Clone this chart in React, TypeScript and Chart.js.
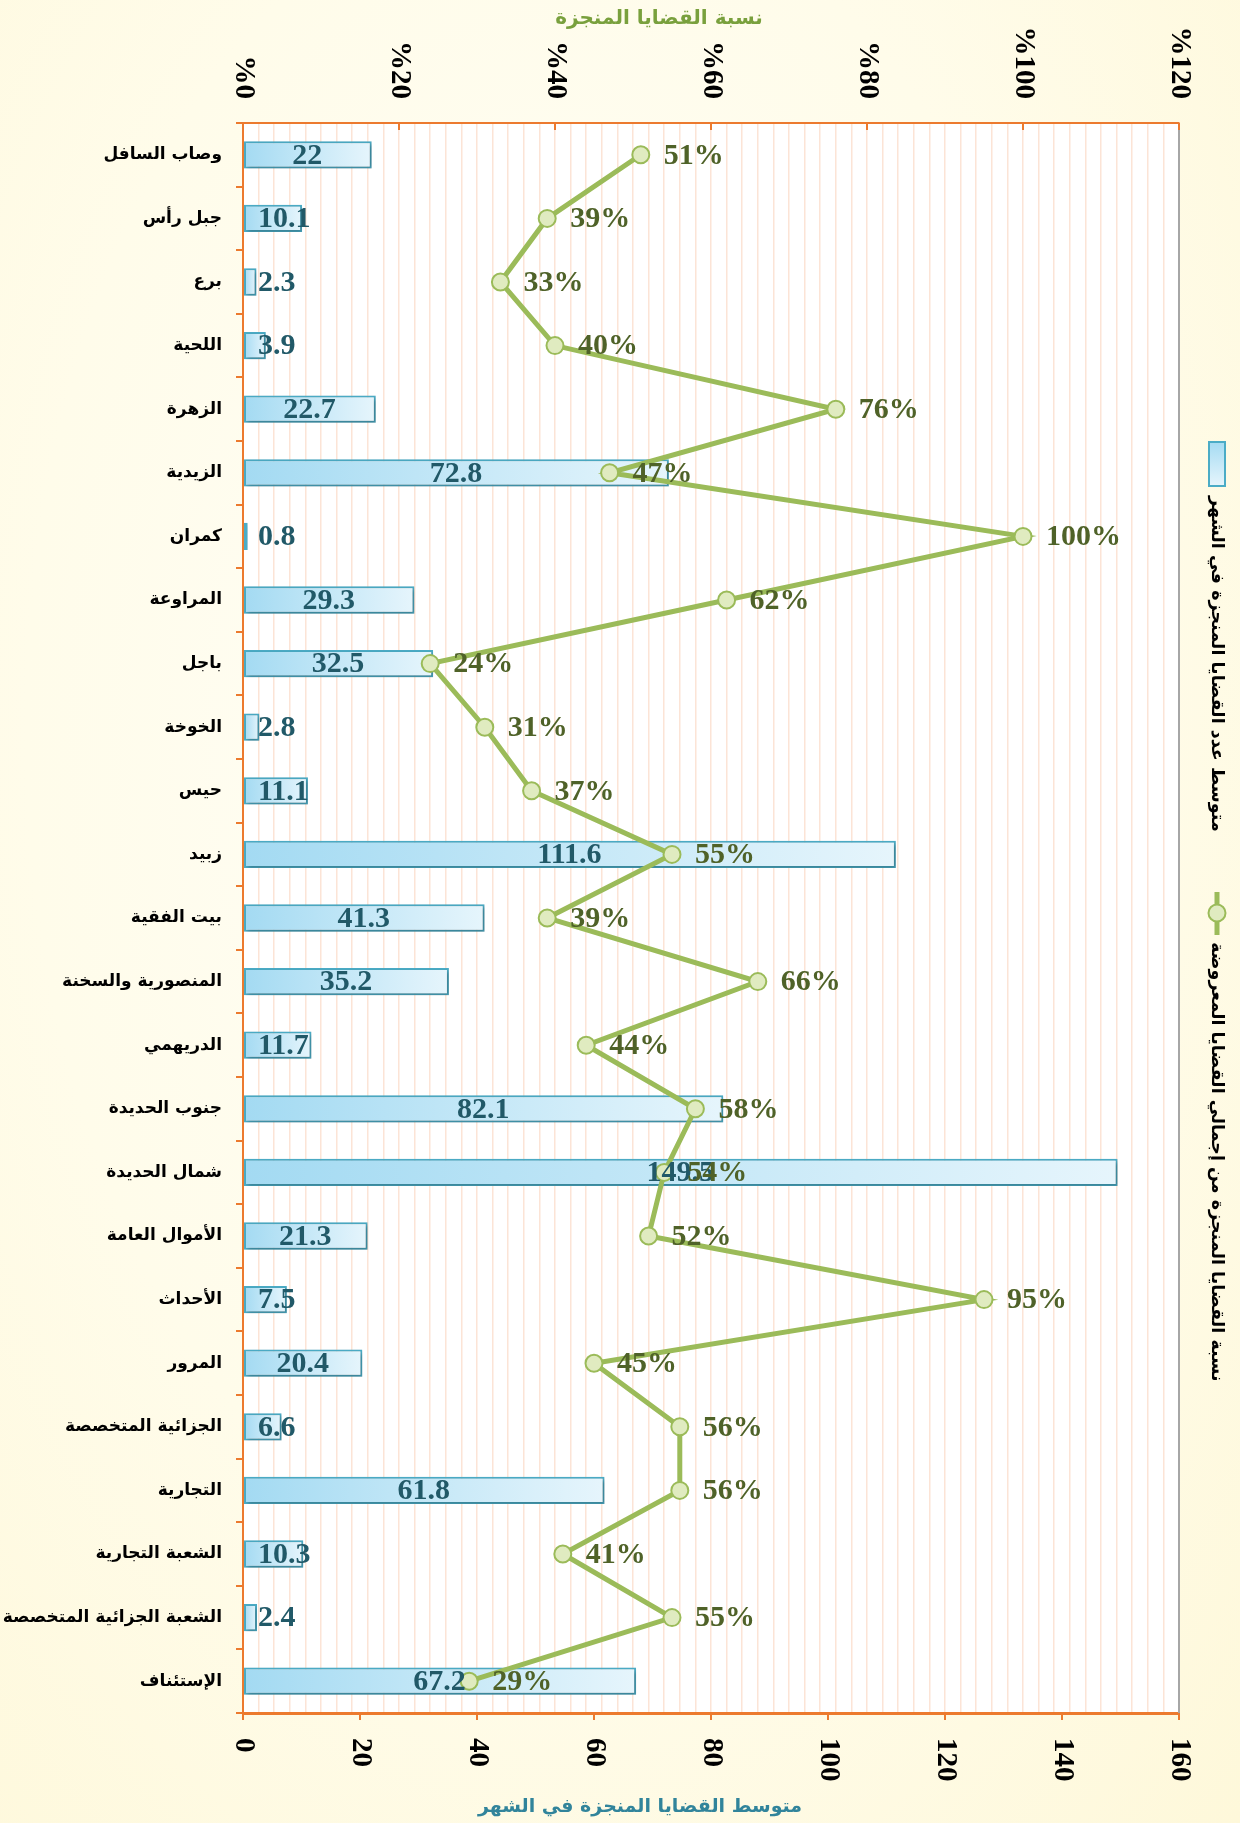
import { useEffect, useRef } from 'react';
import { Chart, registerables } from 'chart.js';

Chart.register(...registerables);

const categories = [
  'وصاب السافل',
  'جبل رأس',
  'برع',
  'اللحية',
  'الزهرة',
  'الزيدية',
  'كمران',
  'المراوعة',
  'باجل',
  'الخوخة',
  'حيس',
  'زبيد',
  'بيت الفقية',
  'المنصورية والسخنة',
  'الدريهمي',
  'جنوب الحديدة',
  'شمال الحديدة',
  'الأموال العامة',
  'الأحداث',
  'المرور',
  'الجزائية المتخصصة',
  'التجارية',
  'الشعبة التجارية',
  'الشعبة الجزائية المتخصصة',
  'الإستئناف',
];

const avgCases = [22, 10.1, 2.3, 3.9, 22.7, 72.8, 0.8, 29.3, 32.5, 2.8, 11.1, 111.6, 41.3, 35.2, 11.7, 82.1, 149.5, 21.3, 7.5, 20.4, 6.6, 61.8, 10.3, 2.4, 67.2];

const completionPct = [51, 39, 33, 40, 76, 47, 100, 62, 24, 31, 37, 55, 39, 66, 44, 58, 54, 52, 95, 45, 56, 56, 41, 55, 29];

const countTicks = [0, 20, 40, 60, 80, 100, 120, 140, 160];
const pctTicks = [0, 20, 40, 60, 80, 100, 120];

const barSeriesName = 'متوسط عدد القضايا المنجزة في الشهر';
const lineSeriesName = 'نسبة القضايا المنجزة من إجمالي القضايا المعروضة';
const countAxisTitle = 'متوسط القضايا المنجزة في الشهر';
const pctAxisTitle = 'نسبة القضايا المنجزة';

const W = 1240;
const H = 1823;
const ORANGE = '#EC7A2E';
const GRID = '#FCE4D6';
const BAR_BORDER = '#4BACC6';
const LINE_GREEN = '#9BBB59';
const AR_FONT = '"DejaVu Sans", sans-serif';
const NUM_FONT = '"Liberation Serif", "Times New Roman", serif';

const barFill = (c: any) => {
  const chart = c.chart;
  const area = chart.chartArea;
  if (!area || c.type !== 'data') return '#BFE6F6';
  const xs = chart.scales.x;
  const x0 = xs.getPixelForValue(0);
  const x1 = xs.getPixelForValue(c.raw);
  const g = chart.ctx.createLinearGradient(x0, 0, Math.max(x1, x0 + 1), 0);
  g.addColorStop(0, '#A3DAF2');
  g.addColorStop(1, '#E6F5FC');
  return g;
};

const decorPlugin = {
  id: 'decor',
  beforeDraw(chart: any) {
    const { ctx, chartArea: a } = chart;
    ctx.save();
    ctx.fillStyle = '#FFFFFF';
    ctx.fillRect(a.left, a.top, a.right - a.left, a.bottom - a.top);
    ctx.restore();
  },
  beforeDatasetsDraw(chart: any) {
    const { ctx, chartArea: a } = chart;
    const x2 = chart.scales.x2;
    ctx.save();
    ctx.strokeStyle = '#A6A6A6';
    ctx.lineWidth = 2;
    ctx.beginPath();
    ctx.moveTo(a.right, a.top);
    ctx.lineTo(a.right, a.bottom);
    ctx.stroke();
    ctx.strokeStyle = ORANGE;
    ctx.lineWidth = 2;
    pctTicks.forEach((v) => {
      const x = x2.getPixelForValue(v);
      ctx.beginPath();
      ctx.moveTo(x, a.top);
      ctx.lineTo(x, a.top + 7);
      ctx.stroke();
    });
    ctx.restore();
  },
  beforeDatasetDraw(chart: any, args: any) {
    if (args.meta.type === 'bar') {
      const ctx = chart.ctx;
      ctx.save();
      ctx.shadowColor = 'rgba(0,0,0,0.28)';
      ctx.shadowBlur = 4;
      ctx.shadowOffsetX = 2;
      ctx.shadowOffsetY = 2;
    }
  },
  afterDatasetDraw(chart: any, args: any) {
    if (args.meta.type === 'bar') chart.ctx.restore();
  },
  afterDatasetsDraw(chart: any) {
    const { ctx } = chart;
    const xs = chart.scales.x;
    const x2 = chart.scales.x2;
    const ys = chart.scales.y;
    ctx.save();
    ctx.font = `bold 30px ${NUM_FONT}`;
    ctx.textBaseline = 'middle';
    ctx.textAlign = 'center';
    ctx.fillStyle = '#215968';
    avgCases.forEach((v, i) => {
      const x0 = xs.getPixelForValue(0);
      const x1 = xs.getPixelForValue(v);
      const y = ys.getPixelForValue(i);
      const label = String(v);
      const w = ctx.measureText(label).width;
      const cx = Math.max((x0 + x1) / 2, x0 + 15 + w / 2);
      ctx.fillText(label, cx, y + 1);
    });
    ctx.textAlign = 'left';
    ctx.fillStyle = '#4F6228';
    completionPct.forEach((v, i) => {
      const x = x2.getPixelForValue(v);
      const y = ys.getPixelForValue(i);
      ctx.fillText(v + '%', x + 23, y + 1);
    });
    ctx.restore();
  },
  afterDraw(chart: any) {
    const { ctx, chartArea: a } = chart;
    const xs = chart.scales.x;
    const x2 = chart.scales.x2;
    ctx.save();
    // top tick labels (rotated clockwise)
    ctx.font = `bold 29px ${NUM_FONT}`;
    ctx.fillStyle = '#000';
    ctx.textBaseline = 'middle';
    pctTicks.forEach((v) => {
      const x = x2.getPixelForValue(v);
      ctx.save();
      ctx.translate(x, a.top - 24);
      ctx.rotate(Math.PI / 2);
      ctx.textAlign = 'right';
      ctx.fillText('%' + v, 0, 0);
      ctx.restore();
    });
    // bottom tick labels
    countTicks.forEach((v) => {
      const x = xs.getPixelForValue(v);
      ctx.save();
      ctx.translate(x, a.bottom + 25);
      ctx.rotate(Math.PI / 2);
      ctx.textAlign = 'left';
      ctx.fillText(String(v), 0, 0);
      ctx.restore();
    });
    // axis titles
    ctx.direction = 'rtl';
    ctx.textAlign = 'center';
    ctx.font = `bold 20px ${AR_FONT}`;
    ctx.fillStyle = '#79A03D';
    ctx.fillText(pctAxisTitle, 659, 19);
    ctx.font = `bold 19px ${AR_FONT}`;
    ctx.fillStyle = '#31849B';
    ctx.fillText(countAxisTitle, 640, 1807);

    // legend (rotated)
    const lx = 1217;
    const sg = ctx.createLinearGradient(0, 442, 0, 486);
    sg.addColorStop(0, '#A5DBF2');
    sg.addColorStop(1, '#E6F5FC');
    ctx.fillStyle = sg;
    ctx.fillRect(lx - 8, 442, 16, 44);
    ctx.strokeStyle = BAR_BORDER;
    ctx.lineWidth = 2;
    ctx.strokeRect(lx - 8, 442, 16, 44);

    ctx.fillStyle = '#000';
    ctx.font = `bold 17.5px ${AR_FONT}`;
    ctx.save();
    ctx.translate(lx, 496);
    ctx.rotate(Math.PI / 2);
    ctx.textAlign = 'left';
    ctx.fillText(barSeriesName, 0, 0);
    ctx.restore();

    ctx.strokeStyle = LINE_GREEN;
    ctx.lineWidth = 5;
    ctx.beginPath();
    ctx.moveTo(lx, 892);
    ctx.lineTo(lx, 935);
    ctx.stroke();
    ctx.beginPath();
    ctx.arc(lx, 913, 8.5, 0, Math.PI * 2);
    ctx.fillStyle = '#E0EBC0';
    ctx.fill();
    ctx.lineWidth = 2;
    ctx.stroke();

    ctx.fillStyle = '#000';
    ctx.save();
    ctx.translate(lx, 942);
    ctx.rotate(Math.PI / 2);
    ctx.textAlign = 'left';
    ctx.fillText(lineSeriesName, 0, 0);
    ctx.restore();

    ctx.restore();
  },
};

export default function App() {
  const ref = useRef<HTMLCanvasElement | null>(null);
  useEffect(() => {
    if (!ref.current) return;
    const chart = new Chart(ref.current, {
      type: 'bar',
      data: {
        labels: categories,
        datasets: [
          {
            type: 'line',
            label: lineSeriesName,
            data: completionPct,
            xAxisID: 'x2',
            yAxisID: 'y',
            indexAxis: 'y',
            borderColor: LINE_GREEN,
            borderWidth: 5,
            pointRadius: 8.5,
            pointBackgroundColor: '#E0EBC0',
            pointBorderColor: LINE_GREEN,
            pointBorderWidth: 2,
            tension: 0,
            fill: false,
            order: 0,
          } as any,
          {
            type: 'bar',
            label: barSeriesName,
            data: avgCases,
            xAxisID: 'x',
            yAxisID: 'y',
            indexAxis: 'y',
            backgroundColor: barFill,
            borderColor: BAR_BORDER,
            borderWidth: 2,
            borderSkipped: false,
            barPercentage: 0.43,
            categoryPercentage: 1,
            order: 1,
          } as any,
        ],
      },
      options: {
        indexAxis: 'y',
        responsive: false,
        animation: false,
        devicePixelRatio: 1,
        layout: { padding: { left: 0, right: 61, top: 0, bottom: 0 } },
        plugins: { legend: { display: false }, tooltip: { enabled: false } },
        scales: {
          y: {
            type: 'category',
            position: 'left',
            offset: true,
            grid: { display: true, drawOnChartArea: false, drawTicks: true, tickLength: 7, color: ORANGE, lineWidth: 2, offset: true },
            border: { display: true, color: ORANGE, width: 2 },
            ticks: { color: '#000', padding: 14, autoSkip: false, font: { family: AR_FONT, size: 17, weight: 'bold' } },
            afterFit: (s: any) => { s.width = 243; },
          },
          x: {
            type: 'linear',
            position: 'bottom',
            min: 0,
            max: 160,
            ticks: { stepSize: 20, display: false },
            grid: { drawOnChartArea: false, drawTicks: true, tickLength: 7, color: ORANGE, lineWidth: 2 },
            border: { display: true, color: ORANGE, width: 3 },
            afterFit: (s: any) => { s.height = 110; },
          },
          x2: {
            type: 'linear',
            position: 'top',
            min: 0,
            max: 120,
            ticks: { stepSize: 2, display: false },
            grid: { drawOnChartArea: true, drawTicks: false, color: GRID, lineWidth: 1.5 },
            border: { display: true, color: ORANGE, width: 2 },
            afterFit: (s: any) => { s.height = 123; },
          },
        },
      } as any,
      plugins: [decorPlugin],
    });
    return () => chart.destroy();
  }, []);

  return (
    <div
      style={{
        position: 'absolute',
        left: 0,
        top: 0,
        width: W,
        height: H,
        background: 'radial-gradient(ellipse at 45% 40%, #FFFEF8 0%, #FFFCEA 55%, #FEF8DA 100%)',
      }}
    >
      <canvas ref={ref} width={W} height={H} style={{ display: 'block', width: W, height: H }} />
    </div>
  );
}
